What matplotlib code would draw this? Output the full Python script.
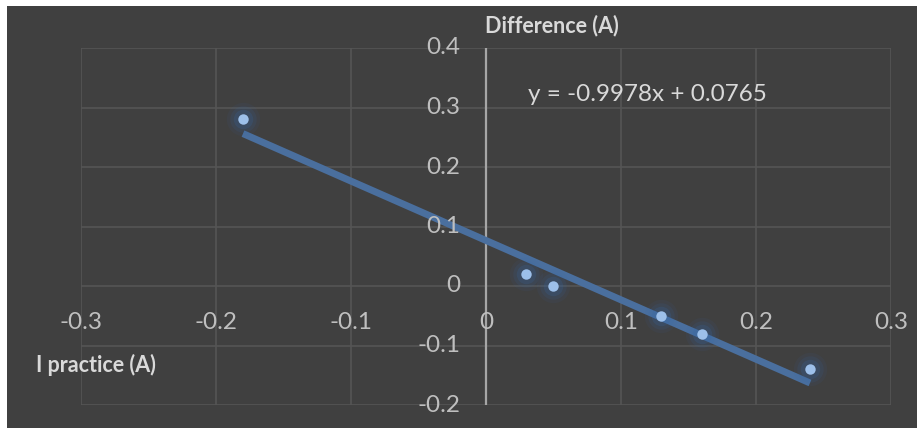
import numpy as np
import matplotlib
matplotlib.use("Agg")
import matplotlib.pyplot as plt
from matplotlib.patches import Rectangle

# Datos
i_practice = [-0.18, 0.03, 0.05, 0.13, 0.16, 0.24]
difference = [0.28, 0.02, 0.00, -0.05, -0.08, -0.14]
x_ticks = [-0.3, -0.2, -0.1, 0, 0.1, 0.2, 0.3]
y_ticks = [-0.2, -0.1, 0, 0.1, 0.2, 0.3, 0.4]

plt.rcParams['font.family'] = ['Lato', 'DejaVu Sans']

bg = "#404040"
grid_c = "#555555"
txt_c = "#bfbfbf"

fig = plt.figure(figsize=(9.17, 4.28), dpi=100, facecolor="white")
# fondo oscuro del area del grafico
fig.patches.append(Rectangle((7 / 917, 0), 1, 1 - 6 / 428, transform=fig.transFigure,
                             facecolor=bg, edgecolor="none", zorder=-10))

ax = fig.add_axes([81 / 917, 1 - 405 / 428, 810 / 917, 357 / 428])
ax.set_facecolor(bg)
ax.set_xlim(-0.3, 0.3)
ax.set_ylim(-0.2, 0.4)

for s in ax.spines.values():
    s.set_visible(False)
ax.set_xticks(x_ticks)
ax.set_yticks(y_ticks)
ax.tick_params(length=0, labelbottom=False, labelleft=False)
ax.grid(True, color=grid_c, linewidth=1.2)
ax.set_axisbelow(True)

# eje vertical en x=0
ax.axvline(0, color="#a6a6a6", linewidth=1.6, zorder=1)

# etiquetas de los ejes (como en Excel, junto a los ejes)
for t in x_ticks:
    ax.text(t, -0.062, f"{t:g}", ha="center", va="center", fontsize=17.5, color=txt_c,
            clip_on=False)
for t in y_ticks:
    ax.text(-0.019, t, f"{t:g}", ha="right", va="center", fontsize=17.5, color=txt_c,
            clip_on=False)

# linea de tendencia
m, b = np.polyfit(i_practice, difference, 1)
xs = np.array([min(i_practice), max(i_practice)])
ax.plot(xs, m * xs + b, color="#4a6f9e", linewidth=5, solid_capstyle="butt", zorder=2)

# puntos con brillo
for sz, a in [(24, 0.08), (19, 0.12), (14, 0.2)]:
    ax.plot(i_practice, difference, "o", ms=sz, color="#3566a8", alpha=a, mec="none", zorder=3)
ax.plot(i_practice, difference, "o", ms=7.5, color="#9dc0ea", mec="none", zorder=4)

ax.text(0.031, 0.322, f"y = {m:.4f}x + {b:.4f}", ha="left", va="center",
        fontsize=17.5, color="#d9d9d9")

fig.text(485 / 917, 1 - 26 / 428, "Difference (A)", ha="left", va="center",
         fontsize=15.5, fontweight="bold", color="#d9d9d9")
fig.text(36 / 917, 1 - 365 / 428, "I practice (A)", ha="left", va="center",
         fontsize=15.5, fontweight="bold", color="#d9d9d9")

fig.savefig("out.png", dpi=100, facecolor=fig.get_facecolor())
